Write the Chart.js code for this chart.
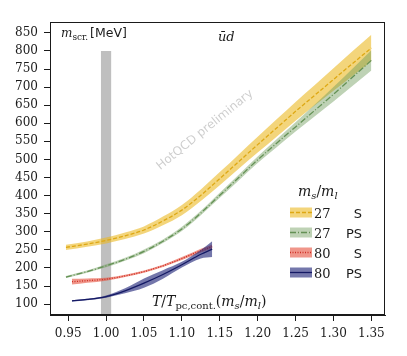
<!DOCTYPE html>
<html>
<head>
<meta charset="utf-8">
<script src="https://cdn.jsdelivr.net/npm/chart.js@4.4.0/dist/chart.umd.min.js"></script>
<style>
  body { margin: 0; background: #fff; }
  #chart { display: block; }
</style>
</head>
<body>
<canvas id="chart" width="407" height="356"></canvas>
<script>
// tick labels
const xTicks = [0.95, 1.0, 1.05, 1.1, 1.15, 1.2, 1.25, 1.3, 1.35];
const yTicks = [100, 150, 200, 250, 300, 350, 400, 450, 500, 550, 600, 650, 700, 750, 800, 850];

// m_s/m_l = 27
const t27 = [0.947, 0.975, 1.0, 1.025, 1.05, 1.075, 1.1, 1.125, 1.15, 1.175, 1.2, 1.225, 1.25, 1.275, 1.3, 1.325, 1.35];
const s27 = [257, 266, 276, 289, 305, 330, 360, 401, 447, 494, 541, 587, 633, 677, 721, 765, 808];
const s27Err = [7, 7, 8, 9, 10, 12, 14, 16, 18, 20, 22, 24, 26, 28, 31, 34, 37];
const ps27 = [175, 190, 206, 224, 246, 274, 308, 352, 401, 450, 499, 545, 590, 635, 680, 727, 774];
const ps27Err = [3, 3, 4, 4, 5, 5, 6, 6, 7, 8, 9, 11, 13, 16, 20, 24, 28];

// m_s/m_l = 80
const t80 = [0.955, 0.975, 1.0, 1.025, 1.05, 1.075, 1.1, 1.125, 1.14];
const s80 = [162, 165, 169, 178, 190, 206, 226, 248, 259];
const s80Err = [8, 6, 4, 3, 3, 3, 4, 5, 6];
const ps80 = [109, 113, 121, 137, 158, 182, 209, 238, 252];
const ps80Err = [2, 2, 3, 7, 13, 12, 8, 12, 22];

// grey band around T_pc
const pcBand = [0.993, 1.007];
const pcTop = 800;

const legendMs = ['27', '27', '80', '80'];
const legendCh = ['S', 'PS', 'S', 'PS'];

const colors = {
  s27: { band: 'rgba(235,185,35,0.6)', line: 'rgb(222,168,20)', dash: [4, 2] },
  ps27: { band: 'rgba(110,155,90,0.45)', line: 'rgb(100,145,85)', dash: [6, 2, 1, 2] },
  s80: { band: 'rgba(230,80,60,0.6)', line: 'rgb(205,45,35)', dash: [1, 1.5] },
  ps80: { band: 'rgba(30,35,120,0.62)', line: 'rgb(20,25,100)', dash: [] },
};

const serif = (size) => `${size}px "DejaVu Serif"`;
const serifIt = (size) => `italic ${size}px "DejaVu Serif"`;
const sans = (size) => `${size}px "DejaVu Sans"`;
const ink = '#1a1a1a';

const toPoints = (xs, ys, err, sign) =>
  xs.map((x, i) => ({ x, y: ys[i] + sign * (err ? err[i] : 0) }));

const seriesSets = (xs, ys, err, style, order) => [
  {
    data: toPoints(xs, ys, err, 1),
    fill: '+1',
    backgroundColor: style.band,
    borderColor: 'rgba(0,0,0,0)',
    borderWidth: 0,
    order: order,
  },
  {
    data: toPoints(xs, ys, err, -1),
    fill: false,
    borderColor: 'rgba(0,0,0,0)',
    borderWidth: 0,
    order: order - 1,
  },
  {
    data: toPoints(xs, ys, null, 0),
    fill: false,
    borderColor: style.line,
    borderWidth: 1.3,
    borderDash: style.dash,
    order: order - 2,
  },
];

const drawRuns = (ctx, x, y, runs) => {
  runs.forEach(([text, font, dy = 0]) => {
    ctx.font = font;
    ctx.fillText(text, x, y + dy);
    x += ctx.measureText(text).width;
  });
  return x;
};

const decor = {
  id: 'decor',
  beforeDatasetsDraw(chart) {
    const { ctx } = chart;
    ctx.save();
    ctx.translate(205, 130);
    ctx.rotate(-39 * Math.PI / 180);
    ctx.font = sans(12);
    ctx.fillStyle = 'rgba(0,0,0,0.2)';
    ctx.textAlign = 'center';
    ctx.textBaseline = 'middle';
    ctx.fillText('HotQCD preliminary', 0, 0);
    ctx.restore();
  },
  afterDraw(chart) {
    const { ctx, chartArea: a } = chart;
    ctx.save();
    ctx.strokeStyle = ink;
    ctx.lineWidth = 1;
    ctx.strokeRect(a.left + 0.5, a.top + 0.5, a.right - a.left - 1, a.bottom - a.top - 1);

    ctx.fillStyle = ink;
    ctx.textBaseline = 'alphabetic';
    // y label inside the frame
    drawRuns(ctx, 61, 37, [
      ['m', serifIt(12)],
      ['scr.', serif(9), 3],
      [' ', serif(6)],
      ['[MeV]', sans(12.5)],
    ]);
    drawRuns(ctx, 218, 41, [['ūd', serifIt(13)]]);

    // x label
    drawRuns(ctx, 152, 306, [
      ['T', serifIt(14)],
      ['/', serif(14)],
      ['T', serifIt(14)],
      ['pc,cont.', serif(10), 3],
      ['(', serif(14)],
      ['m', serifIt(14)],
      ['s', serifIt(10), 3],
      ['/', serif(14)],
      ['m', serifIt(14)],
      ['l', serifIt(10), 3],
      [')', serif(14)],
    ]);

    // legend
    drawRuns(ctx, 298, 196, [
      ['m', serifIt(14)],
      ['s', serifIt(10), 3],
      ['/', serif(14)],
      ['m', serifIt(14)],
      ['l', serifIt(10), 3],
    ]);
    const styles = [colors.s27, colors.ps27, colors.s80, colors.ps80];
    styles.forEach((st, i) => {
      const cy = 212.5 + 20 * i;
      ctx.fillStyle = st.band;
      ctx.fillRect(290, cy - 5, 22, 10);
      ctx.strokeStyle = st.line;
      ctx.lineWidth = 1.3;
      ctx.setLineDash(st.dash);
      ctx.beginPath();
      ctx.moveTo(290, cy);
      ctx.lineTo(312, cy);
      ctx.stroke();
      ctx.setLineDash([]);
      ctx.fillStyle = ink;
      ctx.textAlign = 'left';
      ctx.font = serif(13);
      ctx.fillText(legendMs[i], 314, cy + 5);
      ctx.textAlign = 'right';
      ctx.font = sans(13);
      ctx.fillText(legendCh[i], 362, cy + 5);
    });
    ctx.restore();
  },
};

const datasets = [
  {
    data: pcBand.map((x) => ({ x, y: pcTop })),
    fill: 'start',
    backgroundColor: '#bfbfbf',
    borderColor: 'rgba(0,0,0,0)',
    borderWidth: 0,
    tension: 0,
    order: 100,
  },
  ...seriesSets(t27, s27, s27Err, colors.s27, 90),
  ...seriesSets(t27, ps27, ps27Err, colors.ps27, 80),
  ...seriesSets(t80, s80, s80Err, colors.s80, 70),
  ...seriesSets(t80, ps80, ps80Err, colors.ps80, 60),
];

const axisGrid = { drawOnChartArea: false, tickLength: 6, tickColor: ink, tickWidth: 1 };
const tickFont = { family: '"DejaVu Serif"', size: 12 };

new Chart(document.getElementById('chart'), {
  type: 'line',
  data: { datasets },
  options: {
    responsive: false,
    animation: false,
    layout: { padding: { left: 0, top: 22, right: 22, bottom: 0 } },
    elements: {
      point: { radius: 0 },
      line: { tension: 0.4, cubicInterpolationMode: 'monotone' },
    },
    plugins: { legend: { display: false }, tooltip: { enabled: false } },
    scales: {
      x: {
        type: 'linear',
        min: 0.926,
        max: 1.368,
        afterBuildTicks: (s) => { s.ticks = xTicks.map((v) => ({ value: v })); },
        afterFit: (s) => { s.height = 41; },
        ticks: {
          callback: (v) => v.toFixed(2),
          font: tickFont,
          color: ink,
          padding: 6,
          maxRotation: 0,
          autoSkip: false,
        },
        grid: axisGrid,
        border: { color: ink, width: 1 },
      },
      y: {
        min: 70,
        max: 880,
        afterBuildTicks: (s) => { s.ticks = yTicks.map((v) => ({ value: v })); },
        afterFit: (s) => { s.width = 50; },
        ticks: {
          callback: (v) => v,
          font: tickFont,
          color: ink,
          padding: 6,
          autoSkip: false,
        },
        grid: axisGrid,
        border: { color: ink, width: 1 },
      },
    },
  },
  plugins: [decor],
});
</script>
</body>
</html>
